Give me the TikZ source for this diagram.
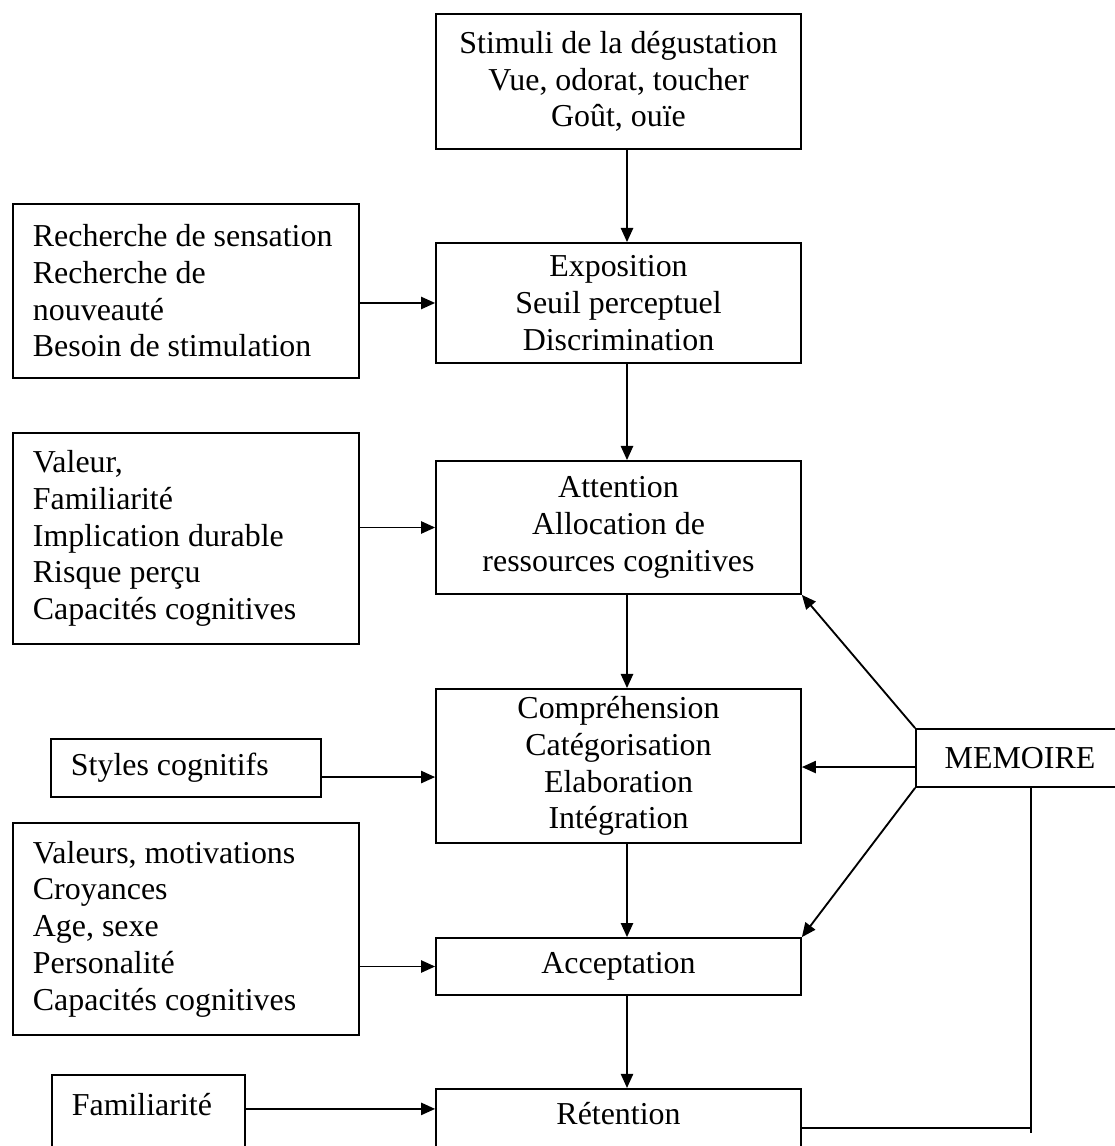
\documentclass[tikz,border=0pt]{standalone}
\usepackage{fontspec}
\setmainfont{Liberation Serif}
\usetikzlibrary{arrows.meta, positioning, calc}

\begin{document}
\begin{tikzpicture}[x=0.376pt, y=-0.376pt,
  font=\fontsize{12}{13.8}\selectfont,
  stage/.style={draw, line width=0.7pt, align=center, minimum width=137.2pt, inner ysep=1pt},
  factor/.style={draw, line width=0.7pt, align=flush left, inner xsep=7.5pt, inner ysep=1pt},
  arc/.style={-{Triangle[length=5.3pt, width=4.6pt]}, line width=0.7pt},
  link/.style={line width=0.7pt}]
  \useasboundingbox (0,0) rectangle (1114,1146);
  \coordinate (spine) at (627,0);
  \node[stage, minimum height=50.8pt] (stim) at (618.5,81.5) {Stimuli de la dégustation\\Vue, odorat, toucher\\Goût, ouïe};
  \node[stage, minimum height=45.1pt] (expo) at (618.5,303)  {Exposition\\Seuil perceptuel\\Discrimination};
  \node[stage, minimum height=50pt]   (att)  at (618.5,527.5) {Attention\\Allocation de\\ressources cognitives};
  \node[stage, minimum height=57.9pt] (comp) at (618.5,766)  {Compréhension\\Catégorisation\\Elaboration\\Intégration};
  \node[stage, minimum height=21.4pt] (acc)  at (618.5,966.5) {Acceptation};
  \node[stage, anchor=base, inner ysep=4pt, text height=9.2pt, text depth=20pt] (ret) at (618.5,1124) {Rétention};
  \node[stage, minimum width=78.2pt, minimum height=21.8pt] (mem) at (1020,758) {MEMOIRE};
  \node[factor, text width=115.1pt, minimum height=65.4pt] (rech) at (186,291)   {Recherche de sensation\\Recherche de\\nouveauté\\Besoin de stimulation};
  \node[factor, text width=115.1pt, minimum height=79.3pt] (val)  at (186,538.5) {Valeur,\\Familiarité\\Implication durable\\Risque perçu\\Capacités cognitives};
  \node[factor, text width=86.5pt, minimum height=21.8pt]  (sty)  at (186,768)   {Styles cognitifs};
  \node[factor, text width=115.1pt, minimum height=79.7pt] (mot)  at (186,929)   {Valeurs, motivations\\Croyances\\Age, sexe\\Personalité\\Capacités cognitives};
  \node[factor, text width=57.6pt, anchor=base west, inner ysep=4pt, text height=11pt, text depth=20pt] (fam) at (51,1115) {Familiarité};
  % main chain
  \draw[arc] (stim.south -| spine) -- (expo.north -| spine);
  \draw[arc] (expo.south -| spine) -- (att.north -| spine);
  \draw[arc] (att.south -| spine)  -- (comp.north -| spine);
  \draw[arc] (comp.south -| spine) -- (acc.north -| spine);
  \draw[arc] (acc.south -| spine)  -- (ret.north -| spine);
  % factors
  \draw[arc] (rech.east |- expo.west) -- (expo.west);
  \draw[arc] (val.east |- att.west)   -- (att.west);
  \draw[arc] ([yshift=-3.4pt]sty.east) -- ([yshift=-3.4pt]sty.east -| comp.west);
  \draw[arc] (mot.east |- acc.west)   -- (acc.west);
  \draw[arc] (fam.mid east) -- (fam.mid east -| ret.west);
  % memoire
  \draw[arc] ([yshift=-3.4pt]mem.west) -- ([yshift=-3.4pt]mem.west -| comp.east);
  \draw[arc] (mem.north west) -- (att.south east);
  \draw[arc] (mem.south west) -- (acc.north east);
  \coordinate (junc) at (1031,1128);
  \coordinate (foot) at (1031,1133);
  \draw[link] (mem.south -| foot) -- (foot);
  \draw[link] (ret.east |- junc) -- (junc);
\end{tikzpicture}
\end{document}
